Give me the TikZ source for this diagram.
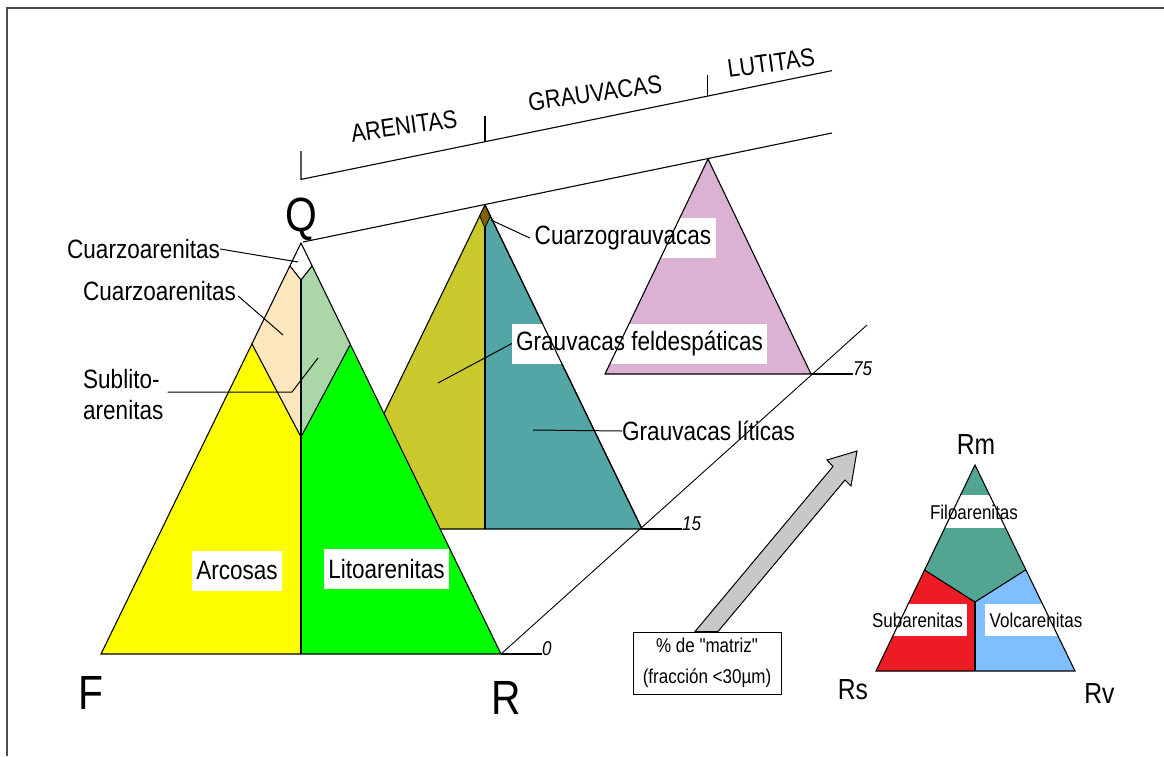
\documentclass[tikz,border=0pt]{standalone}
\usepackage{fontspec}
\setmainfont{Liberation Sans}[FakeStretch=0.85]
\newfontfamily\plainfont{Liberation Sans}[FakeStretch=0.85]
\usetikzlibrary{calc}
\definecolor{cYellow}{RGB}{255,255,0}
\definecolor{cGreen}{RGB}{0,255,0}
\definecolor{cBeige}{RGB}{252,230,190}
\definecolor{cLGreen}{RGB}{170,214,168}
\definecolor{cOlive}{RGB}{201,201,46}
\definecolor{cTeal}{RGB}{82,166,166}
\definecolor{cBrown}{RGB}{128,96,0}
\definecolor{cPink}{RGB}{220,178,212}
\definecolor{cSTeal}{RGB}{82,166,145}
\definecolor{cRed}{RGB}{237,28,36}
\definecolor{cBlue}{RGB}{128,191,255}
\definecolor{cGray}{RGB}{200,200,200}
\begin{document}
\begin{tikzpicture}[x=1pt,y=-1pt,
  edge/.style={draw=black, line width=1.1pt, line join=miter},
  leader/.style={draw=black, line width=1pt},
  lbl/.style={inner sep=0pt, font=\fontsize{26.5}{31}\selectfont},
  wbox/.style={lbl, fill=white, minimum height=40},
  bigl/.style={inner sep=0pt, font=\fontsize{48}{50}\selectfont},
  midl/.style={inner sep=0pt, font=\fontsize{29}{31}\selectfont},
  sml/.style={inner sep=0pt, font=\fontsize{20}{22}\selectfont},
  numl/.style={inner sep=0pt, anchor=base west, font=\fontsize{20}{22}\selectfont\itshape},
  headl/.style={inner sep=0pt, rotate=8, font=\fontsize{25.5}{28}\selectfont}]
\useasboundingbox (0,0) rectangle (1164,756);
\fill[white] (0,0) rectangle (1164,756);
% frame
\draw[line width=2pt, black!70] (6.5,756) -- (6.5,8) -- (1164,8);

% ---- coordinates
\coordinate (Q) at (301,243);
\coordinate (F) at (101,654);
\coordinate (R) at (501,654);
\coordinate (M) at (301,654);
\coordinate (wL) at (290,266);
\coordinate (wR) at (312,266);
\coordinate (wB) at (301,280);
\coordinate (bL) at (252,344);
\coordinate (gR) at (350,345);
\coordinate (mB) at (301,437);
\coordinate (G) at (485,205);
\coordinate (GL) at (328,529);
\coordinate (GR) at (642,529);
\coordinate (GM) at (485,529);
\coordinate (dL) at (479.7,216);
\coordinate (dR) at (490.3,216);
\coordinate (dB) at (485,228);
\coordinate (P) at (708,159);
\coordinate (PL) at (605,374);
\coordinate (PR) at (811,374);

% ---- middle triangle (grauvacas)
\fill[cOlive] (GL) -- (G) -- (GM) -- cycle;
\fill[cTeal] (G) -- (GR) -- (GM) -- cycle;
\draw[edge] (GL) -- (G) -- (GR) -- cycle;
\draw[edge] (dB) -- (GM);
\filldraw[fill=cBrown, edge, line width=0.8pt] (G) -- (dL) -- (dB) -- (dR) -- cycle;

% ---- big triangle (arenitas)
\fill[white] (Q) -- (wL) -- (wB) -- (wR) -- cycle;
\fill[cBeige] (wL) -- (bL) -- (mB) -- (wB) -- cycle;
\fill[cLGreen] (wR) -- (gR) -- (mB) -- (wB) -- cycle;
\fill[cYellow] (bL) -- (F) -- (M) -- (mB) -- cycle;
\fill[cGreen] (gR) -- (R) -- (M) -- (mB) -- cycle;
\draw[edge] (Q) -- (F) -- (R) -- cycle;
\draw[edge] (wL) -- (wB) -- (wR);
\draw[edge] (bL) -- (mB) -- (gR);
\draw[edge] (wB) -- (M);

% ---- pink triangle (lutitas)
\fill[cPink] (P) -- (PL) -- (PR) -- cycle;

% ---- boxed labels
\node[wbox, minimum width=186] (cg) at (623,238) {Cuarzograuvacas};
\node[wbox, minimum width=255] (gf) at (639.5,343.5) {Grauvacas feldespáticas};
\node[wbox, minimum width=90] (arc) at (237,571) {Arcosas};
\node[wbox, minimum width=125] (lit) at (386.5,569) {Litoarenitas};

% outlines over the boxes
\draw[edge] (P) -- (PL) -- (PR) -- cycle;
\draw[edge] (G) -- (GR);

% ---- bracket lines
\coordinate (U0) at (301,179.4);
\coordinate (U1) at (485,141.7);
\coordinate (U2) at (707.7,96);
\coordinate (U3) at (832,70.6);
\draw[edge] (301,151) -- (U0) -- (U3);
\draw[edge] (U1) -- ++(0,-26);
\draw[edge] (U2) -- ++(0,-21);
\coordinate (Qs) at (303,242);
\coordinate (Qe) at (832,133);
\draw[edge] (Qs) -- (Qe);

\node[headl] (h1) at (404,126) {ARENITAS};
\node[headl] (h2) at (595,93) {GRAUVACAS};
\node[headl] (h3) at (771,63) {LUTITAS};

% ---- matrix axis
\coordinate (Dend) at (867,325);
\draw[leader, line width=0.9pt] (R) -- (Dend);
\draw[edge] (R) -- ++(41,0) coordinate (z0);
\draw[edge] (GR) -- ++(40,0) coordinate (z15);
\draw[edge] (PR) -- ++(42,0) coordinate (z75);
\node[numl] (n0) at ($(z0)+(0,1)$) {0};
\node[numl] (n15) at ($(z15)+(0,1)$) {15};
\node[numl] (n75) at ($(z75)+(0,1)$) {75};

% ---- vertex letters
\node[bigl] (lQ) at (301,219) {Q};
\node[bigl] (lF) at (91,693) {F};
\node[bigl] (lR) at (506.5,697.5) {R};

% ---- left labels and leaders
\node[lbl, anchor=west] (cz1) at (67,249) {Cuarzoarenitas};
\coordinate (cz1p) at (298,262);
\draw[leader] (cz1.east) -- (cz1p);
\node[lbl, anchor=west] (cz2) at (83,291) {Cuarzoarenitas};
\coordinate (cz2p) at (283,335);
\draw[leader] ($(cz2.east)+(2,5)$) -- (cz2p);
\node[lbl, anchor=north west, align=left] (sub) at (83,369) {Sublito-\\arenitas};
\coordinate (s2) at (292,392);
\coordinate (s3) at (318,358);
\draw[leader] ($(sub.east |- s2)+(4,0)$) -- (s2) -- (s3);

\coordinate (cgp) at (491,220);
\draw[leader] (cg.west) -- (cgp);
\coordinate (gfp) at (438,383);
\draw[leader] (gf.west) -- (gfp);
\node[lbl, anchor=west] (gl) at (622,431) {Grauvacas líticas};
\coordinate (glp) at (533,430);
\draw[leader] (glp) -- (gl.west);

% ---- matrix box and arrow
\node[draw, line width=1pt, fill=white, minimum width=148, minimum height=62, inner sep=0pt,
      align=center, font=\plainfont\fontsize{20}{31.5}\selectfont] (mbox) at (707,663)
      {\% de "matriz"\\(fracción <30µm)};
\filldraw[fill=cGray, draw=black, line width=1pt]
  ($(mbox.north)+(-12,0)$) -- (833,466.5) -- (827,460) -- (857,451) -- (851,486) -- (845,480)
  -- ($(mbox.north)+(11,0)$) -- cycle;

% ---- small triangle (fragmentos de roca)
\coordinate (Tm) at (975,465);
\coordinate (Ts) at (876,671);
\coordinate (Tv) at (1075,671);
\coordinate (jL) at (924.5,570);
\coordinate (jR) at (1025.5,570);
\coordinate (jC) at (975,602);
\coordinate (jB) at (975,671);
\fill[cSTeal] (Tm) -- (jL) -- (jC) -- (jR) -- cycle;
\fill[cRed] (jL) -- (Ts) -- (jB) -- (jC) -- cycle;
\fill[cBlue] (jR) -- (Tv) -- (jB) -- (jC) -- cycle;
\begin{scope}
  \clip (Tm) -- (Ts) -- (Tv) -- cycle;
  \fill[white] (900,495) rectangle (1050,528);
  \fill[white] (893,604) rectangle (967,636);
  \fill[white] (985,604) rectangle (1057,636);
\end{scope}
\draw[edge] (Tm) -- (Ts) -- (Tv) -- cycle;
\draw[edge] (jL) -- (jC) -- (jR);
\draw[edge] (jC) -- (jB);
\node[sml] (fil) at (974,512) {Filoarenitas};
\node[sml] (sba) at (917.5,620) {Subarenitas};
\node[sml] (vol) at (1036,620) {Volcarenitas};
\node[midl] (lRm) at (976,445) {Rm};
\node[midl] (lRs) at (853,690) {Rs};
\node[midl] (lRv) at (1099.5,694) {Rv};
\end{tikzpicture}
\end{document}
